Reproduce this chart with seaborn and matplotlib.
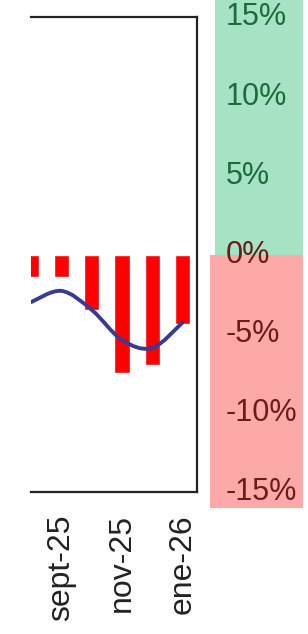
import numpy as np
import pandas as pd
import matplotlib
matplotlib.use('Agg')
import matplotlib.pyplot as plt
from matplotlib.path import Path
from matplotlib.patches import PathPatch
import seaborn as sns

# datos (variación mensual, %)
meses = ['ago-25', 'sept-25', 'oct-25', 'nov-25', 'dic-25', 'ene-26']
barras = [-1.4, -1.45, -3.5, -7.5, -7.0, -4.4]
tendencia = [-3.0, -2.3, -3.5, -5.4, -5.9, -4.3]
etiquetas_x = ['', 'sept-25', '', 'nov-25', '', 'ene-26']
escala = [15, 10, 5, 0, -5, -10, -15]

df = pd.DataFrame({'mes': meses, 'valor': barras, 'tendencia': tendencia})

sns.set_theme(style='white')
plt.rcParams['font.family'] = ['Liberation Sans', 'DejaVu Sans']

fig = plt.figure(figsize=(3.08, 6.34), dpi=100)
W, H = 308, 634

# eje principal
ax = fig.add_axes([31 / W, (H - 492) / H, (197 - 31) / W, (492 - 17) / H])
sns.barplot(data=df, x='mes', y='valor', color='#ff0000', width=0.5,
            saturation=1, ax=ax)

# línea suavizada (Catmull-Rom -> Bezier) sobre los puntos de tendencia
xs = np.arange(len(tendencia), dtype=float)
ys = np.array(tendencia)
verts = [(xs[0], ys[0])]
codes = [Path.MOVETO]
for i in range(len(xs) - 1):
    p0 = (xs[max(i - 1, 0)], ys[max(i - 1, 0)])
    p1 = (xs[i], ys[i])
    p2 = (xs[i + 1], ys[i + 1])
    p3 = (xs[min(i + 2, len(xs) - 1)], ys[min(i + 2, len(xs) - 1)])
    c1 = (p1[0] + (p2[0] - p0[0]) / 6, p1[1] + (p2[1] - p0[1]) / 6)
    c2 = (p2[0] - (p3[0] - p1[0]) / 6, p2[1] - (p3[1] - p1[1]) / 6)
    verts += [c1, c2, p2]
    codes += [Path.CURVE4] * 3
ax.add_patch(PathPatch(Path(verts, codes), facecolor='none',
                       edgecolor='#3a3a92', lw=2.8, zorder=5,
                       capstyle='round'))

ax.set_xlim(-0.01, 5.48)
ax.set_ylim(-15, 15)
ax.set_yticks([])
ax.set_xlabel('')
ax.set_ylabel('')
ax.set_xticks(range(len(meses)))
ax.set_xticklabels(etiquetas_x, rotation=90, fontsize=23, color='#222222')
ax.tick_params(axis='x', length=0, pad=16)
ax.spines['left'].set_visible(False)
for s in ['top', 'right', 'bottom']:
    ax.spines[s].set_color('#222222')
    ax.spines[s].set_linewidth(1.6)

# banda de escala a la derecha
ax2 = fig.add_axes([210 / W, (H - 508) / H, 93 / W, 508 / H])
ax2.set_xlim(0, 1)
ax2.set_ylim(-16.0, 16.1)
ax2.axhspan(0, 16.1, xmin=5 / 93, xmax=1, color='#a6e3c4', lw=0)
ax2.axhspan(-16.0, 0, color='#fca9a7', lw=0)
for v in escala:
    ax2.text(16 / 93, v, f'{v}%', ha='left', va='center', fontsize=22,
             color='#1d6a3a' if v > 0 else '#6e1a1a')
ax2.set_axis_off()

fig.savefig('out.png', dpi=100)
